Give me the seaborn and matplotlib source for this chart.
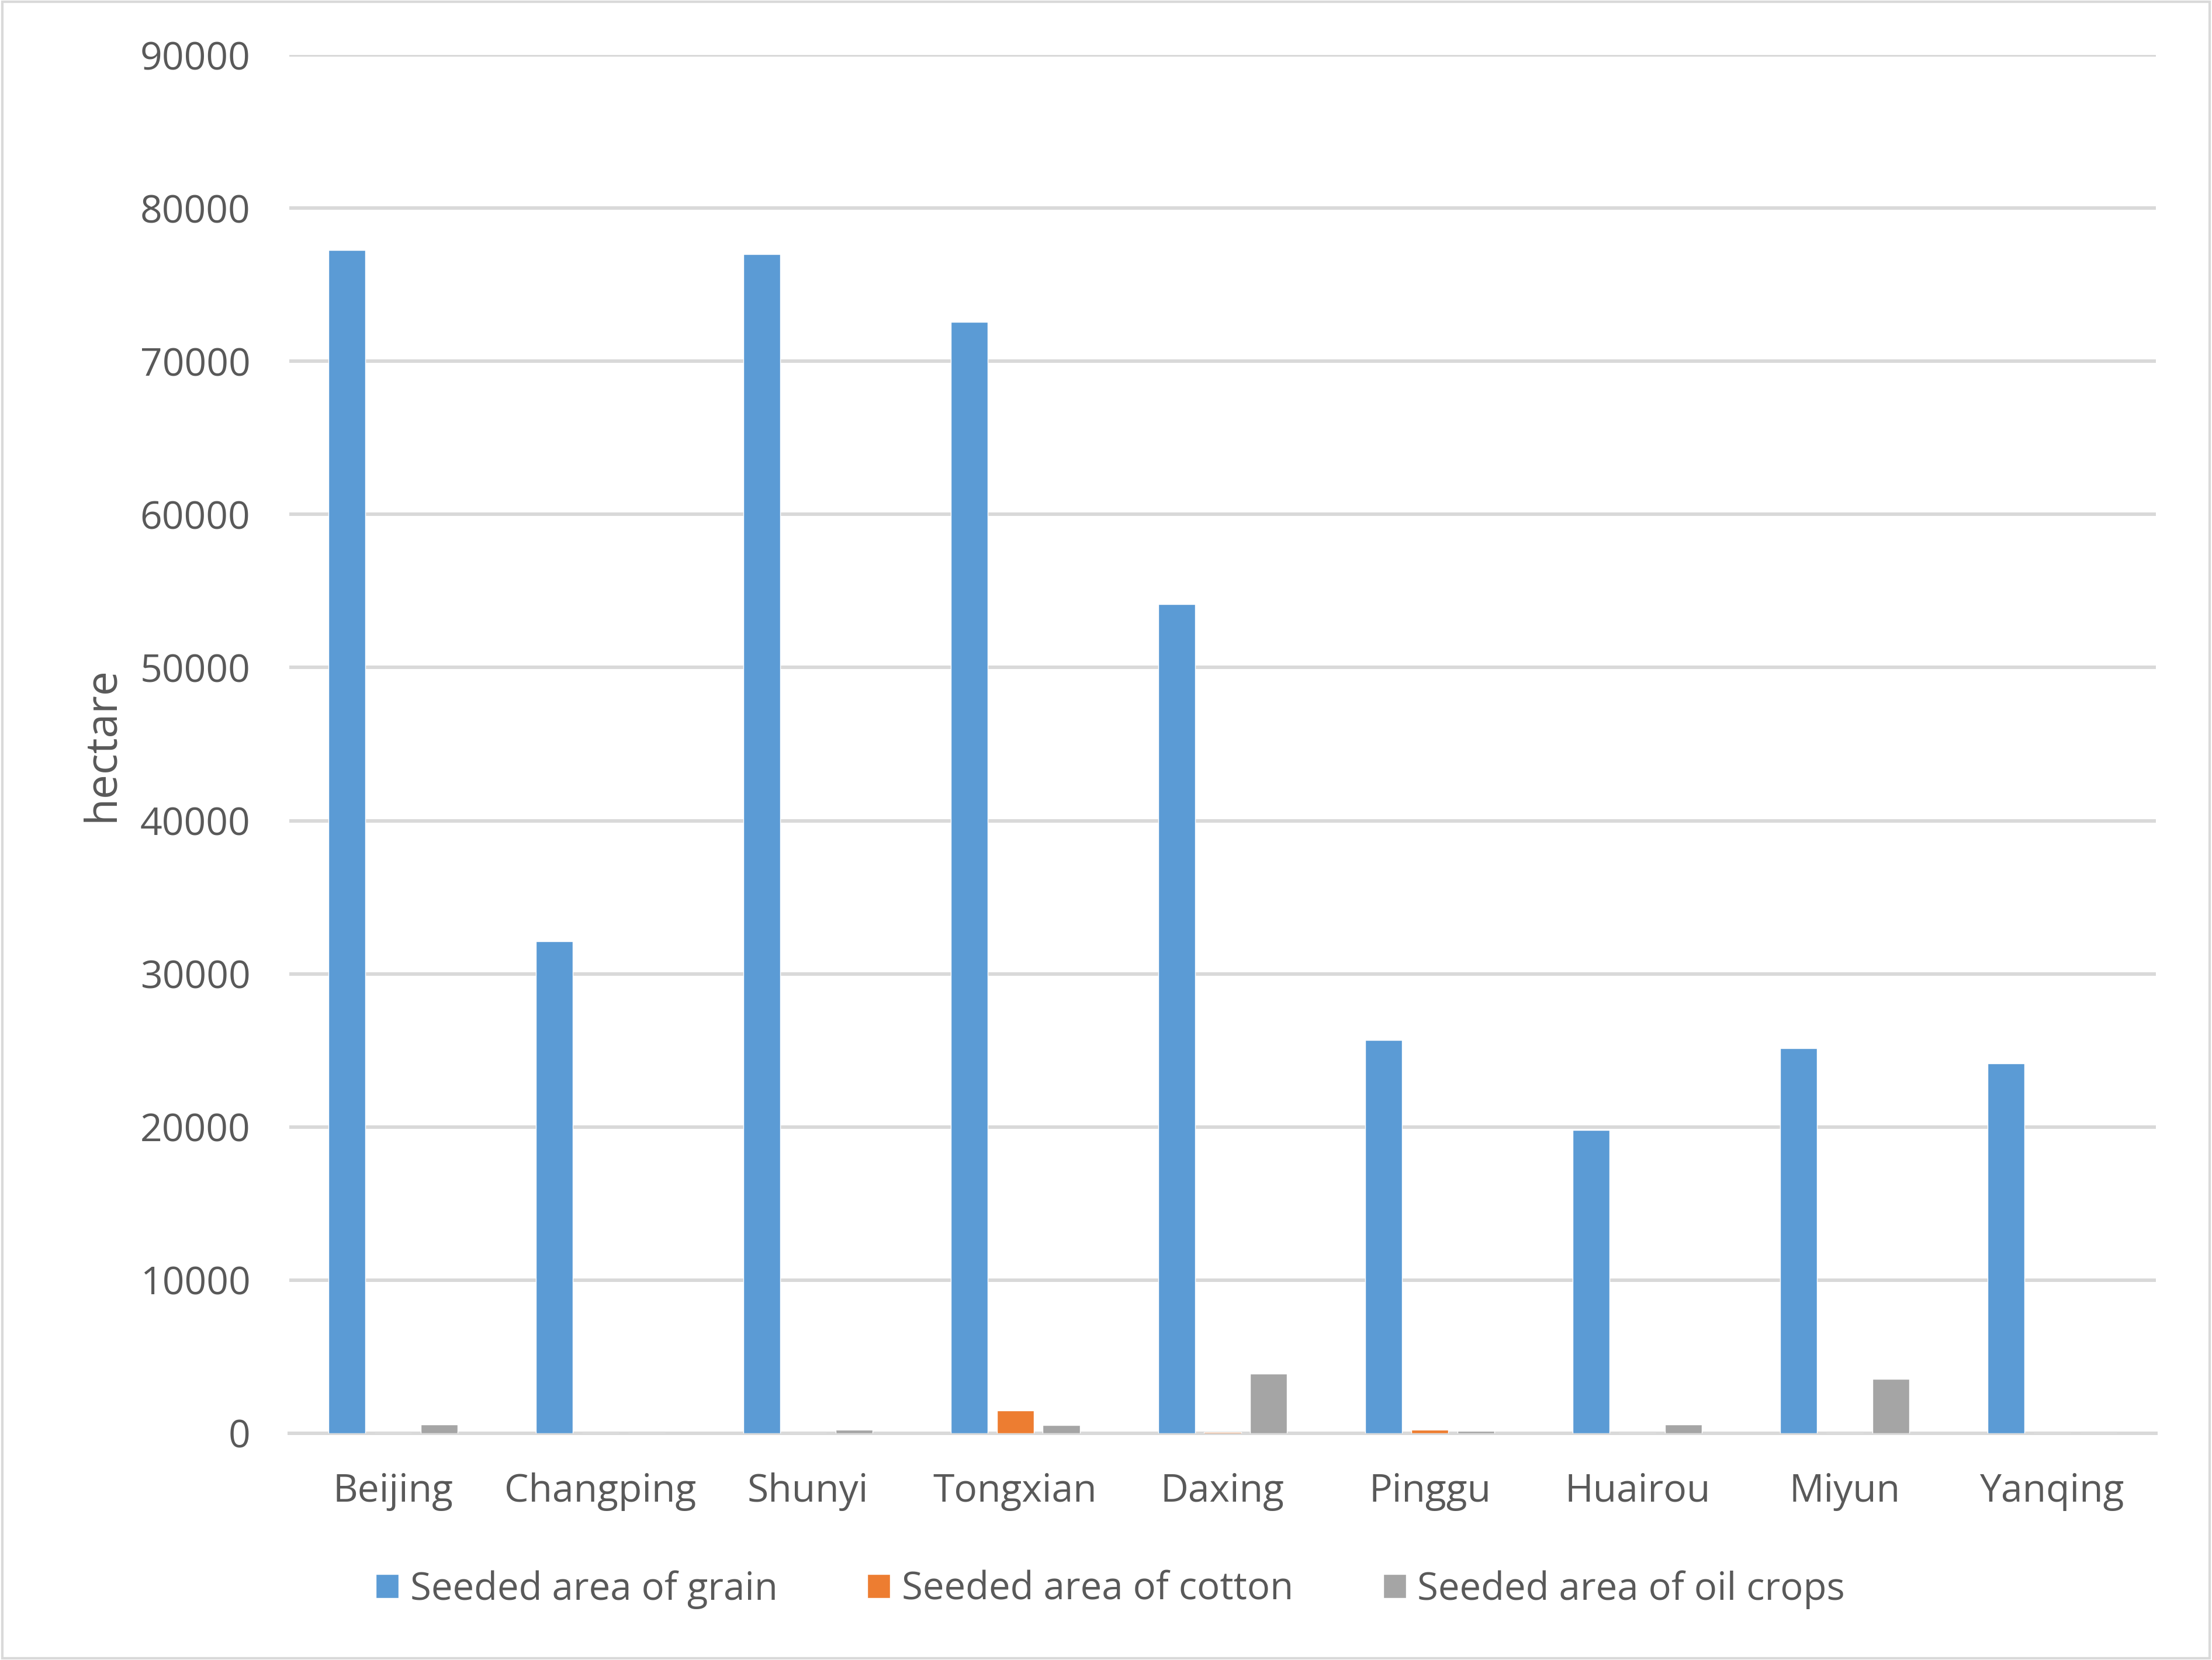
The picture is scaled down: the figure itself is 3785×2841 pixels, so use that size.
import pandas as pd
import seaborn as sns
import matplotlib.pyplot as plt
from matplotlib.patches import Rectangle

# Data (hectare)
districts = ['Beijing', 'Changping', 'Shunyi', 'Tongxian', 'Daxing',
             'Pinggu', 'Huairou', 'Miyun', 'Yanqing']
grain = [77260, 32140, 76980, 72560, 54140, 25690, 19800, 25140, 24130]
cotton = [0, 0, 0, 1490, 80, 230, 0, 0, 0]
oil_crops = [570, 0, 230, 530, 3900, 150, 570, 3550, 0]

series_names = ['Seeded area of grain', 'Seeded area of cotton', 'Seeded area of oil crops']
colors = ['#5B9BD5', '#ED7D31', '#A5A5A5']

df = pd.DataFrame({'district': districts,
                   series_names[0]: grain,
                   series_names[1]: cotton,
                   series_names[2]: oil_crops})
long = df.melt(id_vars='district', var_name='series', value_name='hectare')

sns.set_theme(style='white')
plt.rcParams['font.family'] = ['Open Sans', 'DejaVu Sans']
TXT = '#595959'
GRID = '#D9D9D9'

fig = plt.figure(figsize=(37.85, 28.41), dpi=100)
ax = fig.add_axes([0.1308, 0.1366, 0.8438, 0.8303])

sns.barplot(data=long, x='district', y='hectare', hue='series',
            hue_order=series_names, palette=colors, width=0.667, gap=0.2,
            saturation=1, errorbar=None, ax=ax, zorder=3)

ax.set_xlim(-0.5, len(districts) - 0.5)
ax.set_ylim(0, 90000)
ax.set_yticks(range(0, 90001, 10000))
ax.yaxis.grid(True, color=GRID, linewidth=4.3, zorder=0)
ax.set_axisbelow(True)
for s in ['top', 'right', 'left']:
    ax.spines[s].set_visible(False)
ax.spines['bottom'].set_color(GRID)
ax.spines['bottom'].set_linewidth(4.3)
ax.spines['bottom'].set_zorder(1)

ax.tick_params(axis='both', length=0, labelsize=47.5, labelcolor=TXT)
ax.tick_params(axis='y', pad=48)
ax.tick_params(axis='x', pad=48)
ax.set_xlabel('')
ax.set_ylabel('hectare', fontsize=54, color=TXT, labelpad=20)

handles, labels = ax.get_legend_handles_labels()
ax.legend(handles, labels, loc='center', bbox_to_anchor=(0.502, 0.0425),
          bbox_transform=fig.transFigure, ncol=3, frameon=False,
          fontsize=47, labelcolor=TXT, handlelength=0.6, handleheight=0.6,
          handletextpad=0.3, columnspacing=2.35)

# chart border
fig.patches.append(Rectangle((0.001, 0.001), 0.998, 0.998, transform=fig.transFigure,
                             fill=False, edgecolor=GRID, linewidth=3))

fig.savefig('out.png', dpi=100, facecolor='white')
